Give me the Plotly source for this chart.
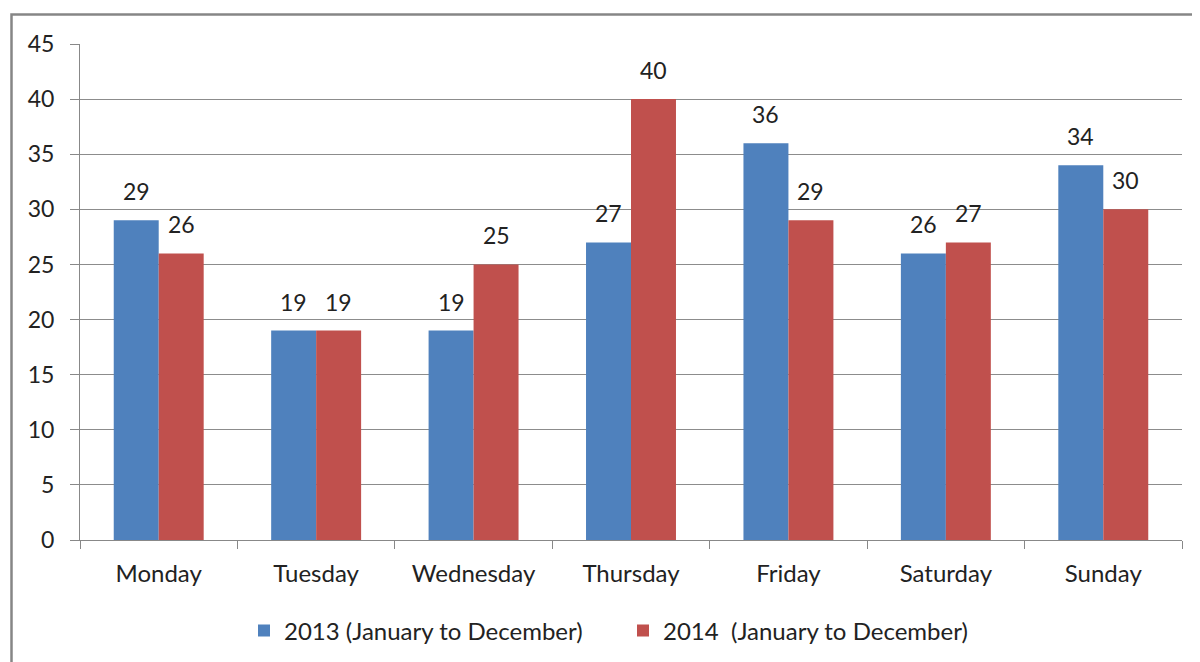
import plotly.graph_objects as go

days = ["Monday", "Tuesday", "Wednesday", "Thursday", "Friday", "Saturday", "Sunday"]
values_2013 = [29, 19, 19, 27, 36, 26, 34]
values_2014 = [26, 19, 25, 40, 29, 27, 30]
series_names = ["2013 (January to December)", "2014\u00a0\u00a0(January to December)"]
y_ticks = [0, 5, 10, 15, 20, 25, 30, 35, 40, 45]
colors = ["#4F81BD", "#C0504D"]

FONT = "Lato, Open Sans, sans-serif"
FS = 24
fig = go.Figure()
for vals, name, col in zip([values_2013, values_2014], series_names, colors):
    fig.add_trace(go.Bar(x=days, y=vals, name=name, marker_color=col,
                         marker_line_width=0))

annotations = []
for vals, shift in zip([values_2013, values_2014], [-22.5, 22.5]):
    for d, v in zip(days, vals):
        annotations.append(dict(x=d, y=v, xref="x", yref="y", text=str(v),
                                showarrow=False, xshift=shift, yshift=13,
                                yanchor="bottom", xanchor="center",
                                font=dict(size=23, color="#222", family=FONT)))

fig.update_layout(
    width=1200, height=662,
    margin=dict(l=72, r=26, t=36, b=130),
    paper_bgcolor="white", plot_bgcolor="white",
    font=dict(family=FONT, size=FS, color="#222"),
    barmode="group", bargap=0.4286, bargroupgap=0,
    showlegend=True,
    legend=dict(orientation="h", x=(236 - 72) / 1102, xanchor="left",
                y=(532 - 623) / 496, yanchor="middle", font=dict(size=FS),
                itemwidth=30, entrywidth=334, traceorder="normal"),
    annotations=annotations,
    shapes=[dict(type="rect", xref="paper", yref="paper",
                 x0=(3.5 - 72) / 1102, x1=(1210 - 72) / 1102,
                 y0=(532 - 680) / 496, y1=(532 - 6.5) / 496,
                 line=dict(color="#868686", width=2.5), layer="below")],
)
fig.update_xaxes(showline=True, linecolor="#888", linewidth=1, ticks="outside",
                 tickson="boundaries", ticklen=8, tickcolor="#888", showgrid=False,
                 tickfont=dict(size=FS), ticklabelstandoff=12)
fig.update_yaxes(range=[0, 45], tickvals=y_ticks, showline=True, linecolor="#888",
                 linewidth=1, ticks="outside", ticklen=9, tickcolor="#888",
                 showgrid=True, gridcolor="#8c8c8c", gridwidth=1, zeroline=False,
                 tickfont=dict(size=23), ticklabelstandoff=11)

fig.write_html("out.html")
